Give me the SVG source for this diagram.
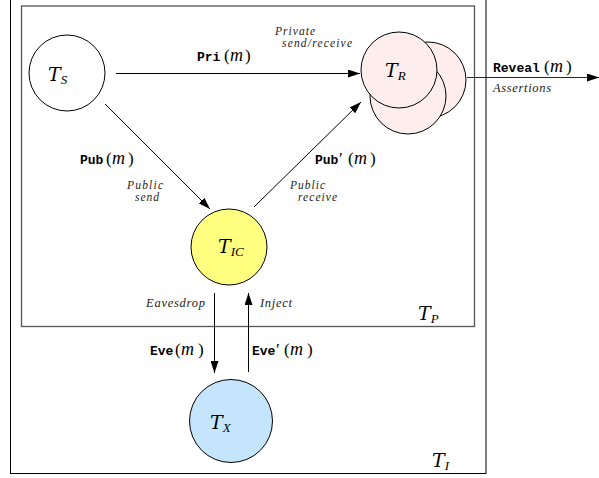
<svg xmlns="http://www.w3.org/2000/svg" width="599" height="478" viewBox="0 0 599 478">
<style>
.box{fill:none;stroke:#000;stroke-width:1}
.inner{fill:none;stroke:#555;stroke-width:1.3}
.node{stroke:#000;stroke-width:1}
.conn{stroke:#000;stroke-width:1;fill:none}
.tt{font-family:"Liberation Mono","DejaVu Sans Mono",monospace;font-size:13px;font-weight:bold}
.m{font-family:"Liberation Serif",serif;font-style:italic;font-size:18px}
.p{font-family:"Liberation Serif",serif;font-size:17px}
.it{font-family:"Liberation Serif",serif;font-style:italic;font-size:12.5px;fill:#222}
.st{font-family:"Liberation Serif",serif;font-style:italic;font-size:11.5px;fill:#222}
.T{font-family:"DejaVu Serif",serif;font-style:italic;font-size:19px}
.sub{font-family:"Liberation Serif",serif;font-style:italic;font-size:13px}
</style>
<defs>
<marker id="ah" viewBox="0 0 12 8" refX="12" refY="4" markerWidth="12" markerHeight="8" markerUnits="userSpaceOnUse" orient="auto">
<path d="M0,0 L12,4 L0,8 z" fill="#000"/>
</marker>
</defs>
<rect id="TI" class="box" x="10.5" y="-2" width="475.5" height="475.5"/>
<rect id="TP" class="inner" x="21.5" y="6" width="453" height="320.5"/>
<g id="TS">
<circle class="node" cx="67" cy="73" r="38" fill="#fff"/>
<text x="48" y="81" class="T">T<tspan class="sub" dy="3">S</tspan></text>
</g>
<g id="TR">
<circle class="node" cx="428" cy="80" r="38" fill="#fdeded"/>
<circle class="node" cx="408" cy="96" r="38" fill="#fdeded"/>
<circle class="node" cx="399" cy="70" r="38" fill="#fdeded"/>
<text x="385" y="77" class="T">T<tspan class="sub" dy="3">R</tspan></text>
</g>
<g id="TIC">
<circle class="node" cx="229" cy="247" r="38" fill="#ffff80"/>
<text x="218" y="253" class="T">T<tspan class="sub" dy="3">IC</tspan></text>
</g>
<g id="TX">
<circle class="node" cx="231" cy="421" r="41.5" fill="#c4e5fb"/>
<text x="210" y="429" class="T">T<tspan class="sub" dy="3">X</tspan></text>
</g>
<g id="connectors">
<line class="conn" x1="116" y1="73.5" x2="360" y2="73.5" marker-end="url(#ah)"/>
<line class="conn" x1="105" y1="104" x2="210" y2="209" marker-end="url(#ah)"/>
<line class="conn" x1="254" y1="207" x2="361" y2="102" marker-end="url(#ah)"/>
<line class="conn" x1="214.5" y1="293" x2="214.5" y2="373" marker-end="url(#ah)"/>
<line class="conn" x1="248.5" y1="372" x2="248.5" y2="293" marker-end="url(#ah)"/>
<line x1="467" y1="77.5" x2="599" y2="77.5" stroke="#2a2a10" stroke-width="1" marker-end="url(#ah)"/>
</g>
<g id="labels">
<text y="61"><tspan x="197" class="tt">Pri</tspan><tspan x="224" class="p">(</tspan><tspan x="230" class="m">m</tspan><tspan x="245" class="p">)</tspan></text>
<text x="275" y="35" class="st" textLength="40">Private</text>
<text x="282" y="47" class="st" textLength="70">send/receive</text>
<text y="164"><tspan x="80" class="tt">Pub</tspan><tspan x="106" class="p">(</tspan><tspan x="112" class="m">m</tspan><tspan x="128" class="p">)</tspan></text>
<text x="127" y="189" class="st" textLength="36">Public</text>
<text x="135" y="201" class="st" textLength="24">send</text>
<text y="164"><tspan x="315" class="tt">Pub</tspan><tspan x="339" class="p">′</tspan><tspan x="348" class="p">(</tspan><tspan x="354" class="m">m</tspan><tspan x="370" class="p">)</tspan></text>
<text x="290" y="189" class="st" textLength="35">Public</text>
<text x="298" y="201" class="st" textLength="39">receive</text>
<text x="146" y="307" class="it" textLength="59">Eavesdrop</text>
<text x="260" y="307" class="it" textLength="32">Inject</text>
<text y="355"><tspan x="150" class="tt">Eve</tspan><tspan x="175" class="p">(</tspan><tspan x="181" class="m">m</tspan><tspan x="198" class="p">)</tspan></text>
<text y="355"><tspan x="252" class="tt">Eve</tspan><tspan x="276" class="p">′</tspan><tspan x="284" class="p">(</tspan><tspan x="290" class="m">m</tspan><tspan x="307" class="p">)</tspan></text>
<text y="72"><tspan x="493" class="tt">Reveal</tspan><tspan x="544" class="p">(</tspan><tspan x="550" class="m">m</tspan><tspan x="566" class="p">)</tspan></text>
<text x="493" y="92" class="it" textLength="58">Assertions</text>
<text x="418" y="320" class="T">T<tspan class="sub" dy="3">P</tspan></text>
<text x="432" y="467" class="T">T<tspan class="sub" dy="3">I</tspan></text>
</g>
</svg>
